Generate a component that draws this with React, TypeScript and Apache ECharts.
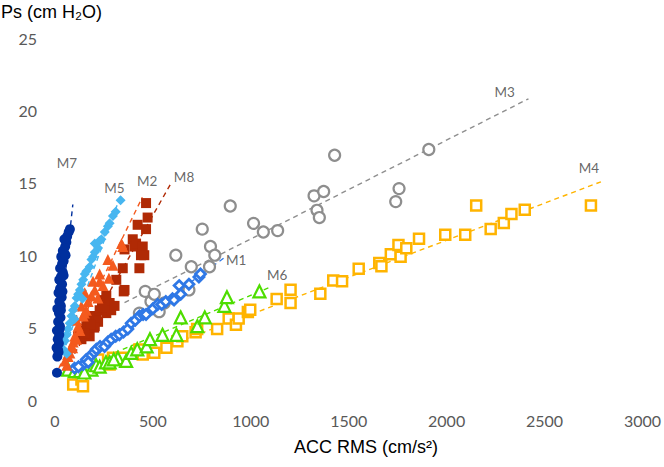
import React, { useEffect, useRef } from "react";
import * as echarts from "echarts";

// ---- Data ----
const seriesNames = ["M4", "M3", "M6", "M1", "M8", "M2", "M5", "M7"];

const m7Points = [
  [10, 1.88], [12, 3.0], [18, 3.3], [8, 3.6], [20, 3.9], [14, 4.2], [22, 4.5], [10, 4.8],
  [25, 5.1], [16, 5.4], [28, 5.7], [20, 6.0], [12, 6.3], [30, 6.5], [22, 6.8], [34, 7.1],
  [18, 7.4], [26, 7.7], [36, 8.0], [22, 8.3], [30, 8.5], [40, 8.8], [26, 9.1], [36, 9.4],
  [44, 9.6], [32, 9.9], [48, 10.1], [40, 10.3], [52, 10.6], [58, 10.9], [48, 11.1], [62, 11.3],
  [70, 11.6], [76, 11.8], [16, 3.45], [24, 4.9], [30, 6.2], [38, 7.5], [44, 8.6], [54, 10.0],
];

const m5Points = [
  [42, 3.5], [51, 4.1], [60, 4.5], [67, 4.9], [75, 5.3], [84, 5.8], [92, 6.2], [101, 6.5],
  [110, 7.05], [118, 7.3], [127, 7.6], [135, 8.0], [144, 8.3], [152, 8.7], [160, 8.9], [177, 9.2],
  [186, 9.7], [195, 9.9], [203, 10.2], [203, 10.8], [220, 10.5], [228, 11.0], [237, 11.1],
  [254, 11.6], [270, 12.0], [279, 12.2], [296, 12.7], [310, 13.0], [335, 13.8], [100, 5.6],
  [140, 7.0], [60, 3.2],
];

const m2Points = [
  [51, 2.7], [60, 2.4], [67, 3.0], [76, 3.25], [84, 3.7], [93, 4.0], [101, 4.4], [110, 4.2],
  [118, 5.1], [127, 4.8], [135, 6.5], [144, 5.8], [152, 7.4], [160, 6.2], [169, 6.8], [186, 7.2],
  [194, 8.2], [203, 7.6], [219, 7.05], [228, 8.2], [228, 8.7], [245, 7.9], [270, 9.7], [275, 8.4],
  [296, 9.3], [346, 10.6], [340, 10.8], [110, 5.5], [90, 3.6], [150, 6.0],
];

const m8Points = [
  [118, 4.4], [127, 4.5], [135, 4.2], [152, 4.9], [160, 5.1], [169, 5.3], [177, 4.4], [186, 5.6],
  [194, 5.8], [203, 5.1], [211, 5.8], [228, 6.2], [245, 6.9], [262, 6.0], [262, 7.2], [279, 6.7],
  [287, 6.2], [304, 6.5], [313, 8.3], [346, 9.1], [351, 7.5], [355, 7.6], [355, 10.4], [397, 11.1],
  [406, 10.6], [414, 10.8], [422, 12.1], [431, 9.1], [439, 10.0], [448, 10.6], [456, 10.0],
  [465, 11.8], [465, 13.6], [473, 12.6], [220, 5.4], [240, 6.4], [200, 5.0], [180, 5.2], [150, 4.6],
];

const m1Points = [
  [144, 2.45], [160, 2.8], [170, 2.6], [186, 3.1], [200, 3.3], [211, 3.5], [230, 3.7], [253, 3.7],
  [270, 4.0], [287, 4.2], [310, 4.4], [329, 4.5], [350, 4.7], [372, 4.9], [389, 5.3], [410, 5.5],
  [431, 5.8], [450, 5.9], [465, 5.9], [500, 6.3], [524, 6.6], [545, 6.6], [566, 6.8], [600, 7.0],
  [608, 6.9], [634, 7.9], [642, 7.3], [684, 8.0], [735, 8.5], [743, 8.7], [100, 2.2], [120, 2.3],
];

const m3Points = [
  [180, 2.6], [431, 6.0], [461, 7.5], [490, 6.8], [507, 7.3], [532, 6.1], [558, 6.7], [617, 10.0],
  [684, 7.6], [696, 9.2], [752, 11.8], [789, 9.2], [794, 10.6], [816, 10.0], [895, 13.4],
  [1014, 12.2], [1064, 11.6], [1137, 11.7], [1323, 14.1], [1338, 13.1], [1350, 12.6], [1372, 14.4],
  [1428, 16.9], [1740, 13.7], [1757, 14.6], [1909, 17.3],
];

const m6Points = [
  [67, 2.1], [101, 2.0], [127, 2.0], [160, 2.2], [186, 2.1], [210, 2.4], [228, 2.3], [260, 2.6],
  [279, 2.6], [321, 2.9], [363, 2.7], [389, 3.25], [420, 3.5], [468, 3.7], [485, 4.2], [549, 4.5],
  [620, 4.5], [642, 5.7], [727, 5.1], [765, 5.7], [865, 6.5], [878, 7.1], [1044, 7.5], [150, 1.9],
  [300, 2.8],
];

const m4Points = [
  [93, 1.07], [135, 1.41], [143, 0.95], [152, 2.22], [169, 2.33], [194, 2.57], [220, 2.79],
  [279, 2.45], [296, 2.91], [346, 2.91], [431, 3.48], [448, 3.14], [507, 3.26], [569, 3.6],
  [625, 4.06], [650, 4.4], [718, 4.68], [726, 4.91], [828, 4.9], [887, 5.62], [924, 5.2],
  [938, 5.62], [985, 6.08], [997, 6.24], [1132, 6.98], [1203, 6.7], [1203, 7.62], [1355, 7.34],
  [1421, 8.26], [1466, 8.2], [1551, 9.07], [1656, 9.46], [1667, 9.23], [1715, 10.07], [1754, 10.71],
  [1765, 9.9], [1794, 10.48], [1859, 11.14], [1993, 11.41], [2095, 11.41], [2151, 13.43],
  [2225, 11.81], [2292, 12.23], [2331, 12.85], [2399, 13.14], [2737, 13.43],
];

// Trend line end points [x0, y0, x1, y1]
const trendM7 = [5, 2.8, 91, 13.5];
const trendM5 = [40, 3.2, 340, 14.3];
const trendM2 = [20, 2.2, 446, 14.0];
const trendM8 = [100, 3.2, 598, 15.1];
const trendM1 = [60, 1.9, 867, 9.85];
const trendM3 = [355, 6.72, 2418, 20.8];
const trendM6 = [50, 1.8, 1105, 7.83];
const trendM4 = [100, 1.3, 2788, 15.07];

// Series label anchors (data coordinates)
const labelM = [
  ["M7", 61, 16.4], ["M5", 304, 14.65], ["M2", 471, 15.1], ["M8", 659, 15.4],
  ["M1", 925, 9.66], ["M6", 1135, 8.66], ["M3", 2296, 21.3], ["M4", 2727, 16.03],
];

const xTicks = { min: 0, max: 3000, interval: 500 };
const yTicks = { min: 0, max: 25, interval: 5 };

// ---- styles ----
type Sty = { color: string; symbol: string; size: number; hollow: boolean; bw: number };
const styles: Record<string, Sty> = {
  M4: { color: "#FFB400", symbol: "rect", size: 10, hollow: true, bw: 2.5 },
  M3: { color: "#8E8E8E", symbol: "circle", size: 11, hollow: true, bw: 2.2 },
  M6: { color: "#4EDD00", symbol: "triangle", size: 12, hollow: true, bw: 2.2 },
  M1: { color: "#2F78E6", symbol: "diamond", size: 10, hollow: true, bw: 2.8 },
  M8: { color: "#B02A05", symbol: "rect", size: 10, hollow: false, bw: 0 },
  M2: { color: "#F45A1E", symbol: "triangle", size: 11, hollow: false, bw: 0 },
  M5: { color: "#47B6F0", symbol: "diamond", size: 10, hollow: false, bw: 0 },
  M7: { color: "#00309E", symbol: "circle", size: 10, hollow: false, bw: 0 },
};

const pointsByName: Record<string, number[][]> = {
  M4: m4Points, M3: m3Points, M6: m6Points, M1: m1Points,
  M8: m8Points, M2: m2Points, M5: m5Points, M7: m7Points,
};
const trendByName: Record<string, number[]> = {
  M4: trendM4, M3: trendM3, M6: trendM6, M1: trendM1,
  M8: trendM8, M2: trendM2, M5: trendM5, M7: trendM7,
};

export default function App() {
  const ref = useRef<HTMLDivElement>(null);
  useEffect(() => {
    if (!ref.current) return;
    const chart = echarts.init(ref.current, undefined, { renderer: "svg" });
    const series: any[] = [];
    seriesNames.forEach((n) => {
      const t = trendByName[n];
      const s = styles[n];
      series.push({
        type: "line",
        name: n + " trend",
        data: [[t[0], t[1]], [t[2], t[3]]],
        symbol: "none",
        silent: true,
        z: 1,
        lineStyle: { color: s.color, width: 1.4, type: [5, 4] },
      });
    });
    seriesNames.forEach((n) => {
      const s = styles[n];
      series.push({
        type: "scatter",
        name: n,
        data: pointsByName[n],
        symbol: s.symbol,
        symbolSize: s.size,
        z: 2,
        itemStyle: s.hollow
          ? { color: "#ffffff", borderColor: s.color, borderWidth: s.bw, opacity: 1 }
          : { color: s.color, opacity: 1 },
      });
    });
    series.push({
      type: "scatter",
      name: "labels",
      symbolSize: 0,
      silent: true,
      z: 3,
      data: labelM.map((l) => ({ name: l[0], value: [l[1], l[2]] })),
      label: {
        show: true,
        position: "inside",
        formatter: "{b}",
        color: "#404040",
        fontSize: 13.5,
        fontFamily: "Lato",
      },
    });

    chart.setOption({
      animation: false,
      backgroundColor: "#ffffff",
      grid: { left: 55, right: 17, top: 38, bottom: 67 },
      xAxis: {
        type: "value",
        ...xTicks,
        axisLine: { show: false },
        axisTick: { show: false },
        splitLine: { show: false },
        axisLabel: {
          color: "#595959",
          fontSize: 16,
          fontFamily: "Lato",
          margin: 12,
          formatter: (v: number) => String(v),
        },
      },
      yAxis: {
        type: "value",
        ...yTicks,
        axisLine: { show: false },
        axisTick: { show: false },
        splitLine: { show: false },
        axisLabel: {
          color: "#595959",
          fontSize: 16,
          fontFamily: "Lato",
          margin: 18,
          formatter: (v: number) => String(v),
        },
      },
      graphic: [
        {
          type: "text",
          x: 1,
          y: 12,
          style: {
            text: "Ps (cm H₂O)",
            fontSize: 18,
            fontFamily: "Liberation Sans",
            fill: "#000000",
            verticalAlign: "middle",
            align: "left",
          },
        },
        {
          type: "text",
          x: 366,
          y: 447,
          style: {
            text: "ACC RMS (cm/s²)",
            fontSize: 18,
            fontFamily: "Liberation Sans",
            fill: "#000000",
            verticalAlign: "middle",
            align: "center",
          },
        },
      ],
      series,
    });
    return () => chart.dispose();
  }, []);
  return (
    <div
      ref={ref}
      style={{ position: "absolute", left: 0, top: 0, width: 664, height: 467 }}
    />
  );
}
